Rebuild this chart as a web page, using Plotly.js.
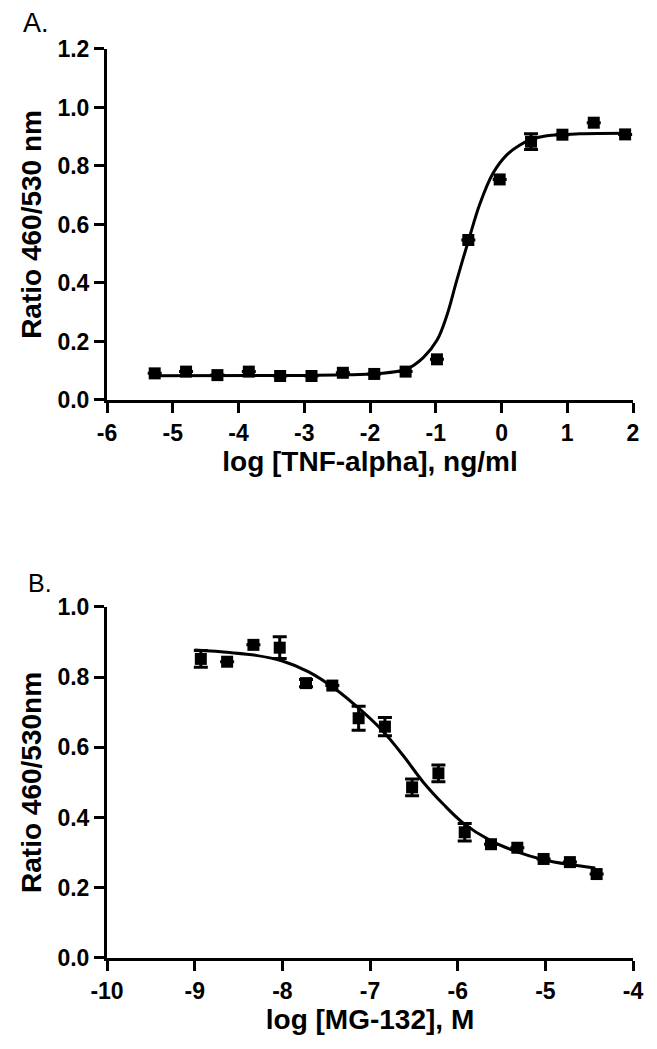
<!DOCTYPE html>
<html>
<head>
<meta charset="utf-8">
<script src="https://cdn.plot.ly/plotly-3.0.1.min.js"></script>
<style>body{margin:0;background:#fff}</style>
</head>
<body>
<div id="chart" style="width:657px;height:1049px"></div>
<script>
// panel A - TNF-alpha dose response
var tnfLogDose = [1.88, 1.403, 0.926, 0.449, -0.028, -0.505, -0.982, -1.459, -1.936, -2.413, -2.89, -3.367, -3.844, -4.321, -4.798, -5.275];
var tnfRatio   = [0.908, 0.948, 0.907, 0.883, 0.754, 0.547, 0.139, 0.097, 0.089, 0.093, 0.082, 0.082, 0.097, 0.085, 0.097, 0.091];
var tnfSem     = [null, null, null, 0.027, null, null, null, null, null, null, null, null, null, null, null, null];
var tnfFitX = [-5.28, -3.0, -2.4, -1.9, -1.45, -1.19, -0.98, -0.83, -0.68, -0.5, -0.33, -0.13, 0.08, 0.28, 0.46, 0.69, 1.19, 1.88];
var tnfFitY = [0.083, 0.084, 0.086, 0.09, 0.105, 0.145, 0.205, 0.29, 0.41, 0.547, 0.67, 0.775, 0.838, 0.872, 0.891, 0.903, 0.91, 0.912];
var tnfTickVals = [-6, -5, -4, -3, -2, -1, 0, 1, 2];
var tnfTickText = ['-6', '-5', '-4', '-3', '-2', '-1', '0', '1', '2'];

// panel B - MG-132 inhibition
var mgLogDose = [-8.93, -8.63, -8.33, -8.03, -7.73, -7.43, -7.13, -6.83, -6.52, -6.22, -5.92, -5.62, -5.32, -5.02, -4.72, -4.415];
var mgRatio   = [0.852, 0.844, 0.892, 0.884, 0.783, 0.776, 0.683, 0.659, 0.486, 0.526, 0.358, 0.324, 0.314, 0.282, 0.273, 0.239];
var mgSem     = [0.024, null, null, 0.031, 0.01, null, 0.034, 0.026, 0.024, 0.024, 0.025, null, null, null, null, null];
var mgFitX = [-9.0, -8.6, -8.3, -8.0, -7.7, -7.4, -7.1, -6.85, -6.62, -6.39, -6.16, -5.94, -5.63, -5.33, -5.02, -4.72, -4.43];
var mgFitY = [0.877, 0.87, 0.862, 0.846, 0.815, 0.767, 0.705, 0.645, 0.576, 0.5, 0.437, 0.385, 0.335, 0.303, 0.28, 0.266, 0.256];
var mgTickVals = [-10, -9, -8, -7, -6, -5, -4];
var mgTickText = ['-10', '-9', '-8', '-7', '-6', '-5', '-4'];

var font = 'Liberation Sans, Arial, sans-serif';

function points(x, y, err, xa, ya) {
  return {
    x: x, y: y, xaxis: xa, yaxis: ya,
    type: 'scatter', mode: 'markers',
    marker: {symbol: 'square', size: 12, color: 'black'},
    error_y: {type: 'data', array: err, visible: true, color: 'black', thickness: 3, width: 7},
    cliponaxis: false
  };
}
function fit(x, y, xa, ya) {
  return {
    x: x, y: y, xaxis: xa, yaxis: ya,
    type: 'scatter', mode: 'lines',
    line: {color: 'black', width: 3, shape: 'spline', smoothing: 1}
  };
}

var data = [
  fit(tnfFitX, tnfFitY, 'x', 'y'),
  points(tnfLogDose, tnfRatio, tnfSem, 'x', 'y'),
  fit(mgFitX, mgFitY, 'x2', 'y2'),
  points(mgLogDose, mgRatio, mgSem, 'x2', 'y2')
];

var axisBase = {
  showline: true, linewidth: 3, linecolor: 'black',
  ticks: 'outside', ticklen: 10, tickwidth: 3, tickcolor: 'black',
  showgrid: false, zeroline: false, automargin: false,
  tickfont: {family: font, size: 23, color: 'black', weight: 'bold'}
};
function axis(extra) { return Object.assign({}, axisBase, extra); }
var titleFont = {family: font, size: 28, weight: 'bold', color: 'black'};

var layout = {
  width: 657, height: 1049,
  margin: {l: 0, r: 0, t: 0, b: 0},
  paper_bgcolor: 'white', plot_bgcolor: 'white',
  showlegend: false,
  xaxis: axis({domain: [0.1629, 0.9635], range: [-6, 2], tickmode: 'array',
    tickvals: tnfTickVals, ticktext: tnfTickText, anchor: 'y',
    title: {text: 'log [TNF-alpha], ng/ml', standoff: 6, font: titleFont}}),
  yaxis: axis({domain: [0.6187, 0.9533], range: [0, 1.2], dtick: 0.2, tickformat: '.1f', anchor: 'x',
    title: {text: 'Ratio 460/530 nm', standoff: 8, font: titleFont}}),
  xaxis2: axis({domain: [0.1629, 0.9635], range: [-10, -4], tickmode: 'array',
    tickvals: mgTickVals, ticktext: mgTickText, anchor: 'y2',
    title: {text: 'log [MG-132], M', standoff: 6, font: titleFont}}),
  yaxis2: axis({domain: [0.0868, 0.4214], range: [0, 1.0], dtick: 0.2, tickformat: '.1f', anchor: 'x2',
    title: {text: 'Ratio 460/530nm', standoff: 8, font: titleFont}}),
  annotations: [
    {xref: 'paper', yref: 'paper', x: 0.032, y: 0.978, xanchor: 'left', yanchor: 'middle',
     text: 'A.', showarrow: false, font: {family: font, size: 27, color: 'black'}},
    {xref: 'paper', yref: 'paper', x: 0.039, y: 0.444, xanchor: 'left', yanchor: 'middle',
     text: 'B.', showarrow: false, font: {family: font, size: 25, color: 'black'}}
  ]
};

Plotly.newPlot('chart', data, layout, {displayModeBar: false});
</script>
</body>
</html>
